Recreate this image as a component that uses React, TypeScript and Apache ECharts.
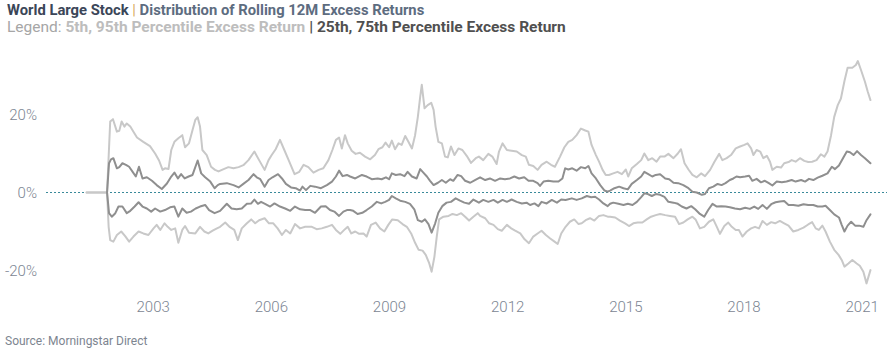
import React, { useEffect, useRef } from "react";
import * as echarts from "echarts";

// x = decimal year, y = rolling 12M excess return (%)
const p95: [number, number][] = [
  [2001.31,0],[2001.83,0],
  [2001.91,18.2],[2001.98,18.8],[2002.08,15.6],[2002.14,15.8],[2002.20,18.2],[2002.27,16.9],[2002.33,17.7],[2002.42,16.9],[2002.50,15.6],[2002.59,14.1],[2002.75,13.0],[2002.92,11.9],[2003.05,10.0],[2003.15,8.2],[2003.24,5.8],[2003.30,6.2],[2003.39,6.0],[2003.46,10.9],[2003.54,13.0],[2003.64,13.9],[2003.74,14.7],[2003.81,11.6],[2003.91,12.6],[2004.00,16.0],[2004.07,18.6],[2004.13,19.3],[2004.19,16.9],[2004.25,10.9],[2004.36,9.6],[2004.47,6.6],[2004.57,5.8],
  [2004.66,5.4],[2004.79,6.0],[2004.91,6.5],[2005.04,6.2],[2005.17,6.5],[2005.29,7.0],[2005.42,8.3],[2005.57,10.5],[2005.69,8.3],[2005.83,5.8],[2005.93,8.3],[2006.01,9.6],[2006.11,11.1],[2006.22,13.5],[2006.33,10.9],[2006.44,8.3],[2006.59,4.7],[2006.71,5.3],[2006.82,7.1],[2006.94,6.5],[2007.07,5.1],[2007.20,5.8],[2007.32,6.2],[2007.45,8.3],[2007.55,10.9],[2007.64,13.5],[2007.72,14.1],[2007.79,11.3],[2007.87,14.7],[2007.94,12.6],
  [2008.04,10.7],[2008.14,9.9],[2008.25,10.2],[2008.38,9.2],[2008.51,8.5],[2008.63,9.6],[2008.72,11.1],[2008.82,11.6],[2008.90,12.8],[2008.99,11.6],[2009.06,13.3],[2009.14,11.1],[2009.23,12.6],[2009.31,12.2],[2009.40,14.5],[2009.48,13.0],[2009.57,11.3],[2009.65,14.7],[2009.72,19.4],[2009.78,24.6],[2009.82,27.6],[2009.89,21.6],[2009.97,22.4],[2010.06,23.0],[2010.12,21.2],[2010.17,16.9],[2010.24,13.0],[2010.33,12.6],[2010.41,9.2],[2010.48,9.0],[2010.56,11.8],[2010.65,9.6],[2010.75,11.3],[2010.85,10.9],[2010.96,9.4],[2011.07,7.6],[2011.19,8.8],
  [2011.27,9.2],[2011.38,8.3],[2011.51,9.9],[2011.61,9.2],[2011.72,7.3],[2011.78,10.5],[2011.87,12.6],[2011.98,10.9],[2012.10,10.7],[2012.23,10.5],[2012.36,9.6],[2012.46,9.2],[2012.54,7.1],[2012.65,6.8],[2012.76,5.8],[2012.86,7.1],[2012.99,7.9],[2013.10,7.1],[2013.20,6.6],[2013.33,9.2],[2013.44,11.6],[2013.54,13.0],[2013.64,13.5],[2013.75,14.7],[2013.86,16.4],[2013.97,15.9],[2014.05,15.6],[2014.13,12.2],[2014.24,9.6],[2014.32,7.9],[2014.41,5.8],[2014.49,4.5],
  [2014.57,4.5],[2014.68,4.9],[2014.79,5.3],[2014.90,4.7],[2015.00,5.9],[2015.06,4.1],[2015.15,6.2],[2015.28,7.3],[2015.39,8.3],[2015.47,10.0],[2015.57,8.3],[2015.67,8.8],[2015.78,7.9],[2015.87,9.2],[2015.98,9.2],[2016.08,9.9],[2016.21,8.8],[2016.32,10.0],[2016.40,11.1],[2016.49,7.5],[2016.59,5.9],[2016.69,4.5],[2016.80,3.9],[2016.91,4.9],[2017.01,4.2],[2017.14,5.8],[2017.25,7.9],[2017.37,9.9],[2017.45,8.3],[2017.56,8.8],[2017.67,9.6],[2017.79,11.3],
  [2017.90,11.8],[2018.01,12.2],[2018.09,12.6],[2018.18,11.3],[2018.24,9.6],[2018.32,10.9],[2018.41,10.5],[2018.49,8.8],[2018.58,9.4],[2018.66,7.9],[2018.72,5.8],[2018.83,6.6],[2018.94,6.4],[2019.02,7.5],[2019.13,7.8],[2019.21,8.3],[2019.31,7.9],[2019.42,8.8],[2019.53,8.1],[2019.63,7.8],[2019.73,7.9],[2019.84,8.3],[2019.95,9.8],[2020.04,9.2],[2020.12,10.5],[2020.21,14.7],[2020.29,19.4],[2020.38,22.4],[2020.46,24.1],[2020.55,28.6],[2020.63,32.0],[2020.75,32.0],[2020.84,32.7],[2020.89,33.7],[2020.97,31.4],[2021.07,28.4],[2021.14,25.9],[2021.21,23.7],
];

const p75: [number, number][] = [
  [2001.83,0],
  [2001.88,7.5],[2001.93,8.5],[2001.99,8.8],[2002.08,6.2],[2002.14,6.5],[2002.22,7.5],[2002.31,7.1],[2002.39,6.6],[2002.48,5.3],[2002.56,4.1],[2002.64,6.6],[2002.73,3.6],[2002.84,3.9],[2002.97,3.0],[2003.09,1.9],[2003.22,0.9],[2003.35,2.3],[2003.46,4.1],[2003.54,5.1],[2003.63,3.6],[2003.71,4.7],[2003.80,3.6],[2003.90,4.1],[2004.00,4.5],[2004.13,8.2],[2004.22,4.9],[2004.32,3.9],[2004.45,2.8],[2004.56,1.1],[2004.64,1.9],
  [2004.70,2.2],[2004.87,2.4],[2005.04,1.9],[2005.17,1.3],[2005.29,2.2],[2005.42,3.2],[2005.55,4.7],[2005.63,3.9],[2005.72,3.4],[2005.83,1.5],[2005.93,3.2],[2006.03,3.9],[2006.17,4.7],[2006.27,3.6],[2006.37,2.2],[2006.50,1.3],[2006.62,1.1],[2006.73,0.5],[2006.79,1.5],[2006.88,0.6],[2006.99,1.7],[2007.11,1.5],[2007.26,1.1],[2007.41,1.9],[2007.54,2.8],[2007.64,4.1],[2007.72,5.6],[2007.81,4.2],[2007.92,4.5],[2008.00,4.1],
  [2008.13,3.6],[2008.30,4.5],[2008.42,4.1],[2008.55,3.4],[2008.70,3.6],[2008.80,3.4],[2008.91,3.9],[2008.99,3.4],[2009.06,4.9],[2009.16,4.5],[2009.27,4.7],[2009.38,4.2],[2009.46,5.3],[2009.57,4.1],[2009.69,3.6],[2009.78,6.0],[2009.86,5.1],[2009.95,4.1],[2010.03,3.0],[2010.12,1.9],[2010.23,2.5],[2010.33,3.2],[2010.43,2.5],[2010.54,3.4],[2010.62,3.0],[2010.73,4.5],[2010.82,4.2],[2010.92,3.0],[2011.05,2.5],[2011.17,3.2],[2011.30,3.9],
  [2011.43,3.2],[2011.55,3.6],[2011.68,3.0],[2011.81,3.6],[2011.93,3.4],[2012.06,3.6],[2012.17,4.1],[2012.29,3.6],[2012.42,3.9],[2012.53,3.0],[2012.65,3.0],[2012.76,2.4],[2012.82,1.7],[2012.91,2.8],[2013.03,3.0],[2013.16,2.8],[2013.29,2.8],[2013.39,3.6],[2013.46,6.2],[2013.54,5.9],[2013.64,6.2],[2013.75,5.6],[2013.86,6.5],[2013.97,6.2],[2014.05,6.8],[2014.13,4.9],[2014.24,3.6],[2014.35,1.9],[2014.46,0.5],[2014.54,0.2],[2014.60,0.5],
  [2014.71,1.1],[2014.83,1.5],[2014.94,1.1],[2015.05,0.8],[2015.15,2.2],[2015.28,3.2],[2015.39,4.1],[2015.47,5.3],[2015.57,4.7],[2015.67,4.1],[2015.76,4.5],[2015.87,4.7],[2016.00,3.6],[2016.10,3.4],[2016.21,2.5],[2016.33,2.4],[2016.46,1.9],[2016.59,1.1],[2016.69,0.2],[2016.80,0.0],[2016.93,-0.6],[2017.01,-0.4],[2017.11,1.1],[2017.22,1.5],[2017.33,2.2],[2017.43,1.9],[2017.53,2.4],[2017.64,3.2],[2017.73,3.6],[2017.81,4.1],[2017.90,3.9],
  [2018.03,4.1],[2018.13,4.3],[2018.21,3.0],[2018.32,3.5],[2018.43,2.6],[2018.53,3.0],[2018.63,2.4],[2018.72,1.8],[2018.83,2.8],[2018.96,2.6],[2019.08,2.8],[2019.21,3.2],[2019.31,2.8],[2019.45,3.2],[2019.55,2.8],[2019.65,3.5],[2019.76,3.2],[2019.87,3.8],[2019.99,4.3],[2020.12,4.9],[2020.23,6.6],[2020.31,6.0],[2020.41,6.9],[2020.52,8.9],[2020.61,10.5],[2020.69,10.3],[2020.78,9.6],[2020.87,10.6],[2020.97,9.6],[2021.07,8.8],[2021.21,7.5],
];

const p25: [number, number][] = [
  [2001.83,0],
  [2001.88,-5.3],[2001.95,-6.2],[2002.04,-5.3],[2002.12,-3.6],[2002.22,-3.6],[2002.33,-5.3],[2002.42,-4.7],[2002.53,-3.6],[2002.63,-2.5],[2002.73,-3.6],[2002.84,-4.1],[2002.95,-4.9],[2003.05,-4.1],[2003.18,-4.9],[2003.30,-4.5],[2003.43,-3.8],[2003.54,-3.6],[2003.64,-6.2],[2003.74,-4.1],[2003.85,-5.2],[2003.96,-4.9],[2004.08,-4.1],[2004.19,-3.6],[2004.32,-3.2],[2004.42,-4.5],[2004.56,-5.3],
  [2004.70,-4.7],[2004.87,-2.9],[2004.99,-4.1],[2005.12,-4.3],[2005.25,-4.1],[2005.38,-2.9],[2005.49,-2.8],[2005.57,-1.8],[2005.66,-2.9],[2005.74,-2.4],[2005.84,-2.9],[2005.97,-3.6],[2006.08,-2.8],[2006.22,-3.6],[2006.35,-4.1],[2006.48,-4.7],[2006.60,-3.6],[2006.73,-4.3],[2006.86,-4.5],[2006.99,-4.5],[2007.11,-5.2],[2007.26,-3.6],[2007.38,-3.5],[2007.49,-4.5],[2007.60,-4.9],[2007.72,-6.0],[2007.83,-4.9],[2007.92,-4.5],[2008.00,-4.5],
  [2008.08,-4.7],[2008.19,-5.5],[2008.31,-5.2],[2008.42,-4.5],[2008.55,-3.6],[2008.68,-2.4],[2008.79,-2.8],[2008.89,-2.4],[2008.99,-1.9],[2009.06,-0.9],[2009.16,-1.5],[2009.27,-2.1],[2009.40,-2.4],[2009.52,-2.9],[2009.63,-4.3],[2009.72,-7.1],[2009.82,-7.5],[2009.90,-6.9],[2009.99,-8.1],[2010.07,-10.3],[2010.16,-7.9],[2010.24,-5.2],[2010.34,-3.5],[2010.45,-2.6],[2010.56,-2.4],[2010.68,-1.5],[2010.79,-2.1],[2010.90,-2.6],[2011.02,-2.9],[2011.13,-1.8],
  [2011.27,-2.6],[2011.38,-1.9],[2011.51,-2.4],[2011.64,-1.9],[2011.75,-2.6],[2011.87,-1.9],[2011.98,-2.4],[2012.10,-1.8],[2012.23,-2.4],[2012.36,-2.8],[2012.48,-2.6],[2012.57,-3.2],[2012.68,-2.8],[2012.78,-3.5],[2012.86,-2.4],[2012.99,-2.8],[2013.12,-1.9],[2013.25,-2.6],[2013.36,-1.8],[2013.47,-1.9],[2013.63,-1.5],[2013.75,-1.9],[2013.88,-1.5],[2014.01,-0.9],[2014.12,-1.2],[2014.22,-1.1],[2014.32,-1.8],[2014.43,-2.8],[2014.54,-3.5],[2014.60,-2.9],
  [2014.68,-2.6],[2014.81,-2.9],[2014.94,-3.2],[2015.05,-2.9],[2015.17,-3.2],[2015.28,-2.4],[2015.39,-1.2],[2015.47,-0.2],[2015.56,-0.4],[2015.66,-0.9],[2015.76,-0.4],[2015.87,-0.6],[2015.98,-1.1],[2016.08,-2.4],[2016.21,-2.6],[2016.32,-2.9],[2016.42,-3.6],[2016.54,-4.1],[2016.66,-3.5],[2016.76,-4.3],[2016.88,-5.5],[2016.99,-6.2],[2017.09,-4.5],[2017.20,-2.9],[2017.31,-3.6],[2017.42,-3.5],[2017.53,-3.6],[2017.64,-3.8],[2017.77,-4.1],[2017.90,-4.3],
  [2018.03,-3.9],[2018.15,-4.2],[2018.26,-3.6],[2018.36,-4.2],[2018.47,-3.2],[2018.58,-4.2],[2018.69,-3.0],[2018.80,-2.5],[2018.91,-2.3],[2019.02,-2.2],[2019.13,-3.2],[2019.25,-3.2],[2019.38,-3.4],[2019.51,-3.0],[2019.63,-3.2],[2019.76,-3.2],[2019.87,-3.6],[2019.99,-3.6],[2020.07,-3.4],[2020.18,-4.5],[2020.29,-5.6],[2020.41,-6.4],[2020.48,-8.3],[2020.55,-10.0],[2020.63,-8.5],[2020.72,-7.5],[2020.82,-8.5],[2020.92,-8.5],[2021.03,-8.8],[2021.11,-7.1],[2021.21,-5.6],
];

const p05: [number, number][] = [
  [2001.31,0],[2001.83,0],
  [2001.87,-8.8],[2001.91,-12.2],[2001.99,-12.6],[2002.08,-10.9],[2002.19,-10.0],[2002.29,-11.2],[2002.39,-12.6],[2002.50,-11.3],[2002.63,-10.0],[2002.75,-10.5],[2002.88,-10.9],[2003.01,-9.2],[2003.09,-8.3],[2003.18,-9.6],[2003.29,-7.9],[2003.37,-8.8],[2003.46,-9.6],[2003.56,-9.2],[2003.64,-12.9],[2003.74,-9.6],[2003.81,-8.6],[2003.91,-10.3],[2004.07,-10.5],[2004.19,-8.8],[2004.30,-10.0],[2004.40,-10.5],[2004.51,-9.8],[2004.62,-9.2],
  [2004.70,-8.8],[2004.83,-7.7],[2004.95,-8.9],[2005.06,-9.6],[2005.15,-12.2],[2005.25,-9.2],[2005.38,-7.9],[2005.49,-6.9],[2005.59,-7.9],[2005.69,-7.1],[2005.83,-6.6],[2005.94,-7.9],[2006.05,-7.9],[2006.16,-9.2],[2006.27,-10.9],[2006.37,-9.6],[2006.48,-10.5],[2006.60,-8.1],[2006.73,-9.2],[2006.86,-8.8],[2007.03,-8.8],[2007.15,-9.4],[2007.28,-9.2],[2007.41,-8.8],[2007.54,-8.3],[2007.64,-9.6],[2007.75,-10.6],[2007.87,-9.4],
  [2007.94,-8.8],[2008.03,-10.5],[2008.13,-10.0],[2008.23,-10.6],[2008.34,-10.5],[2008.42,-11.3],[2008.53,-8.3],[2008.65,-7.7],[2008.76,-9.2],[2008.87,-10.0],[2008.97,-8.3],[2009.07,-6.9],[2009.21,-7.1],[2009.33,-8.1],[2009.44,-8.8],[2009.55,-10.5],[2009.65,-12.9],[2009.74,-14.7],[2009.84,-14.9],[2009.92,-16.0],[2010.01,-18.2],[2010.07,-20.3],[2010.14,-16.5],[2010.20,-11.3],[2010.26,-6.9],[2010.37,-6.2],[2010.50,-6.0],[2010.60,-5.5],[2010.71,-5.8],[2010.82,-5.3],[2010.92,-6.2],[2011.02,-7.2],[2011.13,-6.2],[2011.24,-5.3],
  [2011.30,-6.0],[2011.43,-6.6],[2011.53,-7.9],[2011.64,-8.3],[2011.75,-9.4],[2011.85,-9.8],[2011.98,-8.3],[2012.09,-9.2],[2012.19,-9.8],[2012.32,-10.5],[2012.43,-12.0],[2012.54,-13.0],[2012.65,-11.3],[2012.76,-10.5],[2012.86,-9.8],[2012.97,-10.9],[2013.08,-11.8],[2013.19,-12.6],[2013.27,-13.2],[2013.36,-10.5],[2013.47,-8.8],[2013.58,-7.5],[2013.69,-6.9],[2013.80,-8.1],[2013.88,-7.9],[2013.98,-7.1],[2014.09,-6.6],[2014.20,-7.2],[2014.32,-6.0],[2014.43,-5.8],[2014.54,-6.2],[2014.60,-6.2],
  [2014.73,-6.4],[2014.85,-7.2],[2014.98,-7.9],[2015.08,-8.6],[2015.19,-7.9],[2015.30,-7.7],[2015.42,-7.7],[2015.53,-6.9],[2015.64,-6.2],[2015.76,-5.8],[2015.87,-5.5],[2016.00,-5.8],[2016.12,-6.0],[2016.25,-6.2],[2016.35,-8.1],[2016.46,-7.7],[2016.57,-6.9],[2016.69,-6.2],[2016.77,-6.9],[2016.88,-9.2],[2016.99,-8.8],[2017.11,-7.5],[2017.22,-6.9],[2017.31,-8.8],[2017.39,-10.6],[2017.50,-8.6],[2017.60,-7.7],[2017.69,-8.8],[2017.79,-9.6],
  [2017.87,-9.6],[2017.96,-11.3],[2018.07,-10.0],[2018.18,-9.2],[2018.28,-8.8],[2018.38,-9.2],[2018.47,-7.3],[2018.58,-8.3],[2018.69,-7.6],[2018.79,-7.9],[2018.91,-7.3],[2019.02,-7.9],[2019.13,-8.5],[2019.25,-10.0],[2019.38,-9.6],[2019.51,-9.0],[2019.63,-8.2],[2019.73,-7.6],[2019.82,-9.2],[2019.90,-9.6],[2019.99,-8.5],[2020.07,-10.0],[2020.18,-12.6],[2020.29,-14.7],[2020.40,-16.0],[2020.48,-17.3],[2020.55,-19.0],[2020.65,-18.2],[2020.75,-17.3],[2020.86,-18.2],[2020.94,-18.8],[2021.03,-20.3],[2021.11,-23.3],[2021.21,-19.9],
];

const yearTicks = [2003, 2006, 2009, 2012, 2015, 2018, 2021];
const pctTicks = [-20, 0, 20];

const FONT = "Roboto";
const LIGHT = "#c8c8c8";
const DARK = "#8f8f8f";
const TICK = "#7c8592";

export default function App() {
  const ref = useRef<HTMLDivElement>(null);
  useEffect(() => {
    if (!ref.current) return;
    const chart = echarts.init(ref.current, undefined, { renderer: "svg" });
    const lineSeries = (name: string, data: [number, number][], color: string, z: number) => ({
      name,
      type: "line",
      data,
      showSymbol: false,
      symbol: "none",
      z,
      lineStyle: { color, width: 2, cap: "round", join: "round" },
      emphasis: { disabled: true },
    });
    const t1 = { fontFamily: FONT, fontSize: 14.8, lineHeight: 15 };
    const t2 = { fontFamily: FONT, fontSize: 15.5, lineHeight: 15 };
    chart.setOption({
      animation: false,
      backgroundColor: "#ffffff",
      title: [
        {
          left: 7,
          top: 2,
          padding: 0,
          text: "{a|World Large Stock} {b||} {c|Distribution of Rolling 12M Excess Returns}",
          textStyle: {
            ...t1,
            rich: {
              a: { ...t1, fontWeight: "bold", color: "#3b4658" },
              b: { ...t1, fontWeight: "normal", color: "#d9ad62" },
              c: { ...t1, fontWeight: "bold", color: "#5d6c80" },
            },
          },
        },
        {
          left: 7,
          top: 19,
          padding: 0,
          text: "{a|Legend: }{b|5th, 95th Percentile Excess Return}{c| | 25th, 75th Percentile Excess Return}",
          textStyle: {
            ...t2,
            rich: {
              a: { ...t2, fontWeight: "normal", color: "#a6a6a6" },
              b: { ...t2, fontWeight: "bold", color: "#bdbdbd" },
              c: { ...t2, fontWeight: "bold", color: "#505050" },
            },
          },
        },
        {
          left: 5,
          top: 335,
          padding: 0,
          text: "Source: Morningstar Direct",
          textStyle: { fontFamily: FONT, fontSize: 12, fontWeight: "normal", color: "#7d8590" },
        },
      ],
      grid: { left: 46, right: 0, top: 56, bottom: 63, containLabel: false, outerBoundsMode: "none" },
      xAxis: {
        type: "value",
        min: 2000.28,
        max: 2021.63,
        axisLine: { show: false },
        axisTick: { show: false },
        splitLine: { show: false },
        axisLabel: {
          customValues: yearTicks,
          formatter: (v: number) => String(Math.round(v)),
          fontFamily: FONT,
          fontSize: 15,
          fontWeight: 300,
          color: TICK,
          margin: 9,
          showMinLabel: true,
          showMaxLabel: true,
        },
      },
      yAxis: {
        type: "value",
        min: -25,
        max: 35,
        axisLine: { show: false },
        axisTick: { show: false },
        splitLine: { show: false },
        axisLabel: {
          customValues: pctTicks,
          formatter: (v: number) => `${v}%`,
          fontFamily: FONT,
          fontSize: 15,
          fontWeight: 300,
          color: TICK,
          margin: 9,
          padding: [0, 0, 8, 0],
        },
      },
      series: [
        {
          ...lineSeries("95th Percentile", p95, LIGHT, 2),
          markLine: {
            silent: true,
            z: 1,
            symbol: ["none", "none"],
            label: { show: false },
            lineStyle: { type: [2, 2], color: "#3a8a9a", width: 1 },
            data: [{ yAxis: 0 }],
          },
        },
        lineSeries("5th Percentile", p05, LIGHT, 2),
        lineSeries("75th Percentile", p75, DARK, 3),
        lineSeries("25th Percentile", p25, DARK, 3),
      ],
    });
    return () => chart.dispose();
  }, []);
  return (
    <div
      ref={ref}
      style={{ position: "fixed", left: 0, top: 0, width: 887, height: 353, background: "#fff" }}
    />
  );
}
